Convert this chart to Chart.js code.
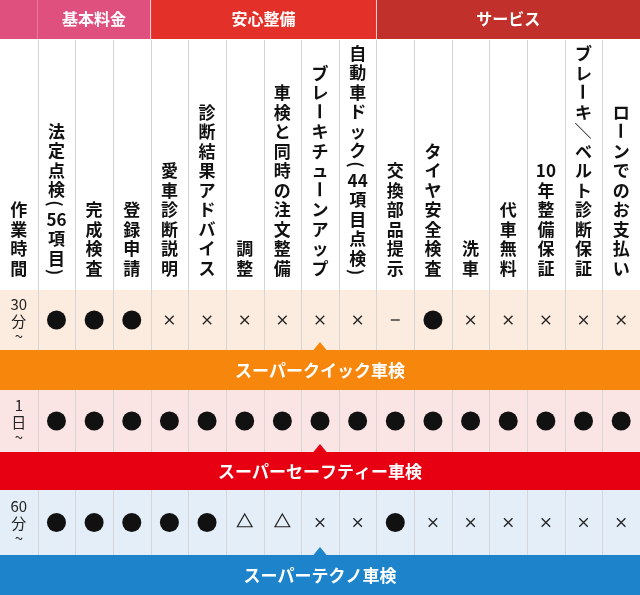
<!DOCTYPE html>
<html><head><meta charset="utf-8">
<script src="https://cdn.jsdelivr.net/npm/chart.js@4"></script>
<style>html,body{margin:0;padding:0;background:#fff;overflow:hidden}#wrap{width:640px;height:595px}</style>
</head><body><div id="wrap"><canvas id="c"></canvas></div>
<script>
// data
const groups = ['基本料金', '安心整備', 'サービス'];
const groupSpans = [3, 6, 7];
const items = ['法定点検(56項目)', '完成検査', '登録申請', '愛車診断説明', '診断結果アドバイス', '調整',
  '車検と同時の注文整備', 'ブレーキチューンアップ', '自動車ドック(44項目点検)', '交換部品提示', 'タイヤ安全検査',
  '洗車', '代車無料', '10年整備保証', 'ブレーキ／ベルト診断保証', 'ローンでのお支払い'];
const plans = ['スーパークイック車検', 'スーパーセーフティー車検', 'スーパーテクノ車検'];
const times = [['30', '分', '~'], ['1', '日', '~'], ['60', '分', '~']];
const quick = ['●', '●', '●', '×', '×', '×', '×', '×', '×', '–', '●', '×', '×', '×', '×', '×'];
const safety = ['●', '●', '●', '●', '●', '●', '●', '●', '●', '●', '●', '●', '●', '●', '●', '●'];
const techno = ['●', '●', '●', '●', '●', '△', '△', '×', '×', '●', '×', '×', '×', '×', '×', '×'];

// layout
const rowTop = [290, 390, 490], rowBot = [350, 452, 555];
const bandBot = [390, 490, 595];
const rowBg = ['#fcebdf', '#fbe4e4', '#e4eef8'];
const bandBg = ['#f7860c', '#e60012', '#1d84cc'];
const groupBg = ['#e0507f', '#e3312a', '#c1302a'];
const FONT = '"Noto Sans CJK JP", sans-serif';

const styleOf = {
  '●': { pointStyle: 'circle', radius: 9.5, bg: '#111', bw: 0 },
  '×': { pointStyle: 'crossRot', radius: 6, bg: 'transparent', bw: 1.3 },
  '△': { pointStyle: 'triangle', radius: 8.5, bg: 'transparent', bw: 1.2 },
  '–': { pointStyle: 'line', radius: 4.5, bg: 'transparent', bw: 1.3 }
};

const rows = [quick, safety, techno];
const datasets = rows.map((vals, r) => ({
  data: vals.map((v, i) => ({ x: i + 1.5, y: (rowTop[r] + rowBot[r]) / 2, s: v })),
  pointStyle: vals.map(v => styleOf[v].pointStyle),
  pointRadius: vals.map(v => styleOf[v].radius),
  pointBackgroundColor: vals.map(v => styleOf[v].bg),
  pointBorderColor: '#222',
  pointBorderWidth: vals.map(v => styleOf[v].bw),
  pointHoverRadius: vals.map(v => styleOf[v].radius)
}));

function vertText(ctx, text, cx, bottom) {
  const toks = text.match(/[0-9]+|./g);
  const stepOf = t => '()'.includes(t) ? 10 : 19.5;
  let y = bottom - toks.reduce((s, t) => s + stepOf(t), 0);
  toks.forEach(t => {
    const st = stepOf(t);
    ctx.save();
    ctx.translate(cx, y + st / 2);
    if ('ー()／'.includes(t)) ctx.rotate(Math.PI / 2);
    ctx.fillText(t, 0, 1);
    ctx.restore();
    y += st;
  });
}

const tablePlugin = {
  id: 'table',
  beforeDatasetsDraw(chart) {
    const { ctx, scales: { x, y } } = chart;
    ctx.save();
    ctx.textAlign = 'center';
    ctx.textBaseline = 'middle';
    const hb = y.getPixelForValue(39);
    ctx.fillStyle = groupBg[0];
    ctx.fillRect(0, 0, x.getPixelForValue(1), hb);
    let c = 1;
    groups.forEach((g, i) => {
      const x0 = x.getPixelForValue(c), x1 = x.getPixelForValue(c + groupSpans[i]);
      ctx.fillStyle = groupBg[i];
      ctx.fillRect(x0, 0, x1 - x0, hb);
      ctx.fillStyle = '#fff';
      ctx.font = 'bold 16px ' + FONT;
      ctx.fillText(g, (x0 + x1) / 2, y.getPixelForValue(19));
      if (i > 0) { ctx.fillStyle = 'rgba(255,255,255,0.7)'; ctx.fillRect(x0 - 0.5, 0, 1, hb); }
      c += groupSpans[i];
    });
    ctx.strokeStyle = '#d4d4d4';
    ctx.lineWidth = 1;
    for (let i = 1; i < 17; i++) {
      const px = Math.round(x.getPixelForValue(i)) + 0.5;
      ctx.beginPath(); ctx.moveTo(px, y.getPixelForValue(40)); ctx.lineTo(px, y.getPixelForValue(290)); ctx.stroke();
    }
    ctx.fillStyle = '#111';
    ctx.font = 'bold 17px ' + FONT;
    vertText(ctx, '作業時間', x.getPixelForValue(0.5), y.getPixelForValue(277));
    items.forEach((t, i) => vertText(ctx, t, x.getPixelForValue(i + 1.5), y.getPixelForValue(277)));
    rows.forEach((vals, r) => {
      const t = y.getPixelForValue(rowTop[r]), b = y.getPixelForValue(rowBot[r]);
      ctx.fillStyle = rowBg[r];
      ctx.fillRect(0, t, chart.width, b - t);
      ctx.strokeStyle = '#d6d6d6';
      for (let i = 1; i < 17; i++) {
        const px = Math.round(x.getPixelForValue(i)) + 0.5;
        ctx.beginPath(); ctx.moveTo(px, t); ctx.lineTo(px, b); ctx.stroke();
      }
      ctx.fillStyle = '#222';
      ctx.font = '15px ' + FONT;
      const mid = (t + b) / 2;
      ctx.fillText(times[r][0], x.getPixelForValue(0.5), mid - 16);
      ctx.fillText(times[r][1], x.getPixelForValue(0.5), mid + 1);
      ctx.fillText(times[r][2], x.getPixelForValue(0.5), mid + 16);
      const bb = y.getPixelForValue(bandBot[r]);
      ctx.fillStyle = bandBg[r];
      ctx.fillRect(0, b, chart.width, bb - b);
      const tx = x.getPixelForValue(8.5);
      ctx.beginPath(); ctx.moveTo(tx - 7, b + 0.5); ctx.lineTo(tx, b - 8); ctx.lineTo(tx + 7, b + 0.5); ctx.closePath(); ctx.fill();
      ctx.fillStyle = '#fff';
      ctx.font = 'bold 17px ' + FONT;
      ctx.fillText(plans[r], chart.width / 2, (b + bb) / 2 + 1);
    });
    ctx.restore();
  }
};

new Chart(document.getElementById('c'), {
  type: 'scatter',
  data: { datasets },
  options: {
    responsive: true,
    maintainAspectRatio: false,
    animation: false,
    layout: { padding: 0, autoPadding: false },
    plugins: { legend: { display: false }, tooltip: { enabled: false } },
    scales: {
      x: { type: 'linear', min: 0, max: 17, display: false },
      y: { type: 'linear', min: 0, max: 595, reverse: true, display: false }
    }
  },
  plugins: [tablePlugin]
});
</script></body></html>
